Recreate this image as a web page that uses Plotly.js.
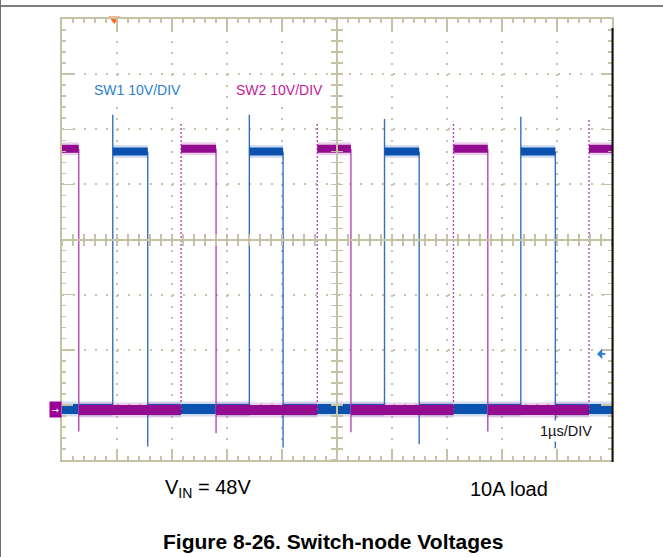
<!DOCTYPE html>
<html>
<head>
<meta charset="utf-8">
<script src="https://cdn.plot.ly/plotly-3.0.1.min.js"></script>
<style>
  html, body { margin: 0; padding: 0; background: #ffffff; }
  #chart { width: 663px; height: 557px; }
</style>
</head>
<body>
<div id="chart"></div>
<script>
// ---------------- data (read from the scope capture) ----------------
// time axis in µs (1 µs/DIV), voltage axis in V (10 V/DIV), 0 V at ground marker
const timeRange = [0, 10];
const voltRange = [-9.25, 70.75];

// SW1 (blue)
const sw1RiseTimes = [0.923, 3.406, 5.864, 8.342];
const sw1RisePeaks = [53.4, 53.4, 52.6, 53.0];
const sw1FallTimes = [1.559, 4.020, 6.494, 8.970];
const sw1FallDips  = [-6.8, -7.0, -6.4, -7.1];
const sw1HighLevel = 46.7;
const sw1LowLevel  = 0.0;
const sw1StartsHigh = false;

// SW2 (magenta)
const sw2FallTimes = [0.305, 2.801, 5.253, 7.742];
const sw2FallDips  = [-4.1, -4.4, -4.2, -4.1];
const sw2RiseTimes = [2.165, 4.641, 7.117, 9.582];
const sw2RisePeaks = [51.7, 52.0, 52.1, 52.6];
const sw2HighLevel = 47.2;
const sw2LowLevel  = -0.2;
const sw2StartsHigh = true;

// trigger markers
const triggerTime  = 0.95;
const triggerLevel = 10;

// labels
const sw1Label = 'SW1 10V/DIV';
const sw2Label = 'SW2 10V/DIV';
const timeLabel = '1µs/DIV';
const vinLabel = 'V<sub>IN</sub> = 48V';
const loadLabel = '10A load';
const figTitle = '<b>Figure 8-26. Switch-node Voltages</b>';

// ---------------- build traces ----------------
function levels(rises, falls, hi, lo, startsHigh) {
  const ev = [];
  rises.forEach(t => ev.push({t, s: 1}));
  falls.forEach(t => ev.push({t, s: 0}));
  ev.sort((a, b) => a.t - b.t);
  const high = {x: [], y: []}, low = {x: [], y: []};
  let state = startsHigh ? 1 : 0, t0 = timeRange[0];
  const push = (tA, tB, st) => {
    const tgt = st ? high : low, v = st ? hi : lo;
    tgt.x.push(tA, tB, null); tgt.y.push(v, v, null);
  };
  ev.forEach(e => { push(t0, e.t, state); state = e.s; t0 = e.t; });
  push(t0, timeRange[1], state);
  return {high, low};
}
function edges(times, from, to) {
  const x = [], y = [];
  times.forEach((t, i) => { x.push(t, t, null); y.push(from, to[i], null); });
  return {x, y};
}

const BLUE = '#0b52ae', BLUE_EDGE = '#3570c0', BLUE_HALO = 'rgba(40,100,190,0.22)';
const MAG = '#930c90', MAG_EDGE = '#b548b5', MAG_HALO = 'rgba(160,40,160,0.22)';

function channelTraces(rises, peaks, falls, dips, hi, lo, startsHigh, col, edgeCol, halo, riseDash) {
  const L = levels(rises, falls, hi, lo, startsHigh);
  const base = {type: 'scatter', mode: 'lines', hoverinfo: 'skip', showlegend: false, xaxis: 'x', yaxis: 'y'};
  const re = edges(rises, lo, peaks);
  const fe = edges(falls, hi, dips);
  return [
    Object.assign({}, base, {x: re.x, y: re.y, line: {color: edgeCol, width: 1.4, dash: riseDash}}),
    Object.assign({}, base, {x: fe.x, y: fe.y, line: {color: edgeCol, width: 1.4}}),
    Object.assign({}, base, {x: L.low.x, y: L.low.y, line: {color: halo, width: 15}}),
    Object.assign({}, base, {x: L.high.x, y: L.high.y, line: {color: halo, width: 13}}),
    Object.assign({}, base, {x: L.low.x, y: L.low.y, line: {color: col, width: 10}}),
    Object.assign({}, base, {x: L.high.x, y: L.high.y, line: {color: col, width: 8}})
  ];
}

const traces = [].concat(
  channelTraces(sw1RiseTimes, sw1RisePeaks, sw1FallTimes, sw1FallDips, sw1HighLevel, sw1LowLevel, sw1StartsHigh, BLUE, BLUE_EDGE, BLUE_HALO, 'solid'),
  channelTraces(sw2RiseTimes, sw2RisePeaks, sw2FallTimes, sw2FallDips, sw2HighLevel, sw2LowLevel, sw2StartsHigh, MAG, MAG_EDGE, MAG_HALO, '2px,2px')
);

// trigger position marker (orange triangle at top)
traces.push({type: 'scatter', mode: 'markers', x: [triggerTime], y: [voltRange[1]], xaxis: 'x', yaxis: 'y',
  cliponaxis: false, hoverinfo: 'skip', showlegend: false,
  marker: {symbol: 'triangle-down', size: 10, color: '#ff6a1a', line: {width: 0}}});

// empty traces so the centre crosshair axes exist
['x2', 'x3'].forEach(a => traces.push({type: 'scatter', x: [], y: [], xaxis: a, yaxis: 'y', hoverinfo: 'skip', showlegend: false}));
['y2', 'y3'].forEach(a => traces.push({type: 'scatter', x: [], y: [], xaxis: 'x', yaxis: a, hoverinfo: 'skip', showlegend: false}));

// ---------------- layout ----------------
const GRID = '#c6c2a6';
const divX = (timeRange[1] - timeRange[0]) / 10;
const divY = (voltRange[1] - voltRange[0]) / 8;

const frameX = {
  range: timeRange, tick0: timeRange[0], dtick: divX, showticklabels: false,
  showline: true, linecolor: GRID, linewidth: 2, mirror: 'ticks',
  ticks: 'inside', ticklen: 11, tickwidth: 1.5, tickcolor: GRID,
  showgrid: true, gridcolor: GRID, gridwidth: 2, griddash: '2px,9.02px',
  zeroline: false, fixedrange: true,
  minor: {tick0: timeRange[0], dtick: divX / 5, ticks: 'inside', ticklen: 4, tickwidth: 1.5, tickcolor: GRID, showgrid: false}
};
const frameY = {
  range: voltRange, tick0: voltRange[0], dtick: divY, showticklabels: false,
  showline: true, linecolor: GRID, linewidth: 2, mirror: 'ticks',
  ticks: 'inside', ticklen: 11, tickwidth: 1.5, tickcolor: GRID,
  showgrid: true, gridcolor: GRID, gridwidth: 2, griddash: '2px,9.02px',
  zeroline: false, fixedrange: true,
  minor: {tick0: voltRange[0], dtick: divY / 5, ticks: 'inside', ticklen: 4, tickwidth: 1.5, tickcolor: GRID, showgrid: false}
};
function centerX(dir) {
  return {overlaying: 'x', anchor: 'free', position: 0.5, range: timeRange, tick0: timeRange[0], dtick: divX / 5,
    showticklabels: false, showline: true, linecolor: GRID, linewidth: 2, ticks: dir, ticklen: 5, tickwidth: 1.5,
    tickcolor: GRID, showgrid: false, zeroline: false, fixedrange: true};
}
function centerY(dir) {
  return {overlaying: 'y', anchor: 'free', position: 0.5, range: voltRange, tick0: voltRange[0], dtick: divY / 5,
    showticklabels: false, showline: true, linecolor: GRID, linewidth: 2, ticks: dir, ticklen: 5, tickwidth: 1.5,
    tickcolor: GRID, showgrid: false, zeroline: false, fixedrange: true};
}

const W = 663, H = 557, mL = 62, mR = 51, mT = 19, mB = 97;
const pw = W - mL - mR, ph = H - mT - mB;
const px = v => (v - mL) / pw;          // pixel x -> paper x
const py = v => (H - mB - v) / ph;      // pixel y -> paper y

const FONT = '"Liberation Sans", Arial, sans-serif';

const layout = {
  width: W, height: H,
  margin: {l: mL, r: mR, t: mT, b: mB, pad: 0},
  paper_bgcolor: '#ffffff', plot_bgcolor: '#ffffff',
  showlegend: false,
  font: {family: FONT, color: '#000000'},
  xaxis: frameX, yaxis: frameY,
  xaxis2: centerX('outside'), xaxis3: centerX('inside'),
  yaxis2: centerY('outside'), yaxis3: centerY('inside'),
  shapes: [
    // page rules around the figure
    {type: 'line', xref: 'paper', yref: 'paper', x0: px(0), x1: px(W), y0: py(6), y1: py(6), line: {color: '#7f7f7f', width: 2}},
    {type: 'line', xref: 'paper', yref: 'paper', x0: px(0.5), x1: px(0.5), y0: py(0), y1: py(H), line: {color: '#6f6f6f', width: 1}},
    // dark right edge of the scope capture
    {type: 'line', xref: 'paper', yref: 'paper', x0: px(612.5), x1: px(612.5), y0: py(28), y1: py(462), line: {color: '#111111', width: 2}}
  ],
  annotations: [
    {x: 1.366, y: 57.8, xref: 'x', yref: 'y', xanchor: 'center', yanchor: 'middle', text: sw1Label, showarrow: false, bgcolor: '#ffffff', borderpad: 2,
      font: {family: FONT, size: 14, color: '#2b7fd0'}},
    {x: 3.96, y: 57.8, xref: 'x', yref: 'y', xanchor: 'center', yanchor: 'middle', text: sw2Label, showarrow: false, bgcolor: '#ffffff', borderpad: 2,
      font: {family: FONT, size: 14, color: '#c4199c'}},
    {x: 9.155, y: -3.94, xref: 'x', yref: 'y', xanchor: 'center', yanchor: 'middle', text: timeLabel, showarrow: false, bgcolor: '#ffffff', borderpad: 2,
      font: {family: FONT, size: 14.5, color: '#111111'}},
    // ground reference marker
    {x: timeRange[0], y: 0, xref: 'x', yref: 'y', xanchor: 'right', yanchor: 'middle', text: '→', showarrow: false, bgcolor: '#990099',
      width: 11, height: 15, align: 'center', valign: 'middle', borderpad: 0,
      font: {family: '"DejaVu Sans", sans-serif', size: 9, color: '#ffffff'}},
    // trigger level marker (arrow pointing left at the trigger level)
    {x: 9.727, y: triggerLevel, xref: 'x', yref: 'y', text: '', showarrow: true, ax: 10, ay: 0,
      arrowhead: 1, arrowsize: 1.1, arrowwidth: 1.6, arrowcolor: '#2b7fd0', standoff: 0},
    {x: px(208), y: py(489), xref: 'paper', yref: 'paper', xanchor: 'center', yanchor: 'middle', text: vinLabel, showarrow: false,
      font: {family: FONT, size: 20, color: '#000000'}},
    {x: px(509), y: py(489), xref: 'paper', yref: 'paper', xanchor: 'center', yanchor: 'middle', text: loadLabel, showarrow: false,
      font: {family: FONT, size: 20, color: '#000000'}},
    {x: px(332.5), y: py(541), xref: 'paper', yref: 'paper', xanchor: 'center', yanchor: 'middle', text: figTitle, showarrow: false,
      font: {family: FONT, size: 21, color: '#000000'}}
  ]
};

Plotly.newPlot('chart', traces, layout, {staticPlot: true, displayModeBar: false});
</script>
</body>
</html>
